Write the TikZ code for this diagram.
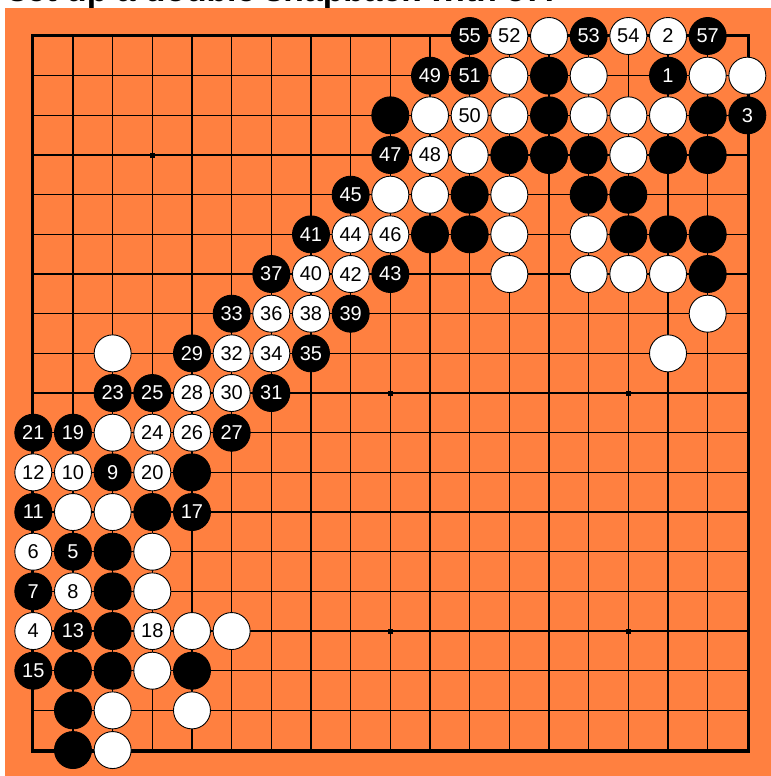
\documentclass[tikz,border=0pt]{standalone}
\usepackage{fontspec}
\setmainfont{Liberation Sans}
\usepackage{xcolor}
\usepackage{tikz}
\definecolor{boardorange}{RGB}{255,128,64}
\tikzset{
    stone/.style={circle, draw=black, line width=0.9pt, minimum size=37pt, inner sep=0pt, font=\fontsize{20}{20}\selectfont},
    blackstone/.style={stone, fill=black, text=white},
    whitestone/.style={stone, fill=white, text=black}
}

\begin{document}
\begin{tikzpicture}[x=39.67pt,y=-39.67pt]
    \useasboundingbox (-0.8394,-0.9075) rectangle (18.596,18.654);
    \fill[boardorange] (-0.7134,-0.7058) rectangle (18.596,18.654);

    % Caption, cut off by the top edge
    \node[anchor=base west, inner sep=0pt, font=\fontsize{33.7}{34}\selectfont\bfseries] (caption) at (-0.6377,-0.8697) {set up a double snapback with 57!};

    % Grid lines
    \foreach \i in {0,...,18} {
        \draw[line width=1.4pt] (\i,0) -- (\i,18);
        \draw[line width=1.4pt] (0,\i) -- (18,\i);
    }
    \draw[line width=3pt] ([shift={(-1pt,1pt)}]0,0) rectangle ([shift={(1pt,-1pt)}]18,18);

    % Star points
    \foreach \x in {3,9,15}
        \foreach \y in {3,9,15}
            \fill ([shift={(-2.5pt,-2.5pt)}]\x,\y) rectangle ([shift={(2.5pt,2.5pt)}]\x,\y);

    % Black stones
    \foreach \c/\r in {13/1, 9/2, 13/2, 17/2, 12/3, 13/3, 14/3, 16/3, 17/3, 11/4, 14/4, 15/4,
        10/5, 11/5, 15/5, 16/5, 17/5, 17/6, 4/11, 3/12, 2/13, 2/14, 2/15, 1/16, 2/16, 4/16, 1/17, 1/18}
        \node[blackstone] (b-\c-\r) at (\c,\r) {};
    \foreach \c/\r/\n in {16/1/1, 18/2/3, 1/13/5, 0/14/7, 2/11/9, 0/12/11, 1/15/13, 0/16/15,
        4/12/17, 1/10/19, 0/10/21, 2/9/23, 3/9/25, 5/10/27, 4/8/29, 6/9/31, 5/7/33, 7/8/35,
        6/6/37, 8/7/39, 7/5/41, 9/6/43, 8/4/45, 9/3/47, 10/1/49, 11/1/51, 14/0/53, 11/0/55, 17/0/57}
        \node[blackstone] (b\n) at (\c,\r) {\n};

    % White stones
    \foreach \c/\r in {13/0, 12/1, 14/1, 17/1, 18/1, 10/2, 12/2, 14/2, 15/2, 16/2, 11/3, 15/3,
        9/4, 10/4, 12/4, 12/5, 14/5, 12/6, 14/6, 15/6, 16/6, 17/7, 2/8, 16/8, 2/10, 1/12, 2/12,
        3/13, 3/14, 4/15, 5/15, 3/16, 2/17, 4/17, 2/18}
        \node[whitestone] (w-\c-\r) at (\c,\r) {};
    \foreach \c/\r/\n in {16/0/2, 0/15/4, 0/13/6, 1/14/8, 1/11/10, 0/11/12, 3/15/18, 3/11/20,
        3/10/24, 4/10/26, 4/9/28, 5/9/30, 5/8/32, 6/8/34, 6/7/36, 7/7/38, 7/6/40, 8/6/42,
        8/5/44, 9/5/46, 10/3/48, 11/2/50, 12/0/52, 15/0/54}
        \node[whitestone] (w\n) at (\c,\r) {\n};
\end{tikzpicture}
\end{document}
